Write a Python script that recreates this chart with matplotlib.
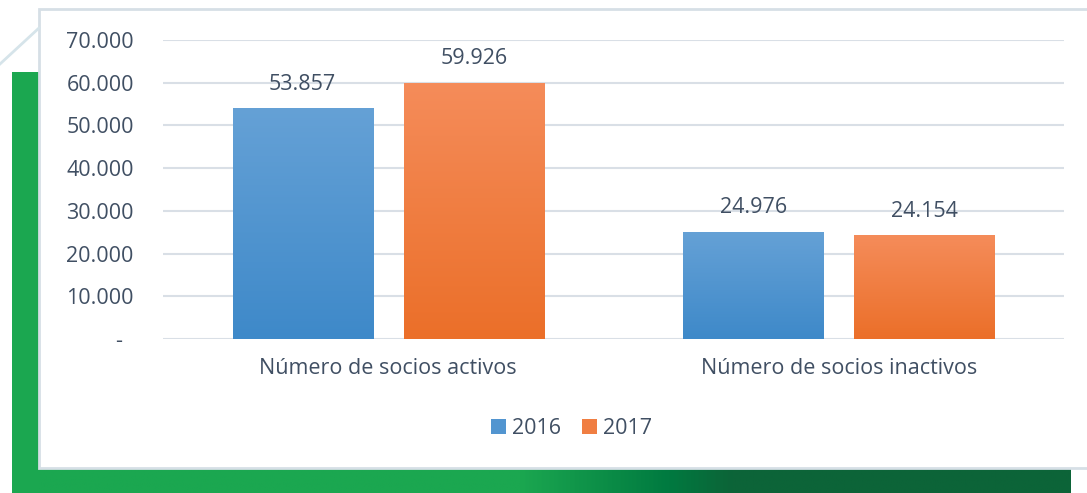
import numpy as np
import matplotlib.pyplot as plt
from matplotlib.colors import LinearSegmentedColormap
from matplotlib.patches import Rectangle
from matplotlib.lines import Line2D

# -----------------------------
# Data
# -----------------------------
categories = ['Número de socios activos', 'Número de socios inactivos']
years = ['2016', '2017']
values_2016 = [53857, 24976]
values_2017 = [59926, 24154]
yticks = [0, 10000, 20000, 30000, 40000, 50000, 60000, 70000]
ytick_labels = ['-  ', '10.000', '20.000', '30.000', '40.000', '50.000', '60.000', '70.000']

text_color = '#404F63'
grid_color = '#D9DFE6'
plt.rcParams['font.family'] = ['Open Sans', 'DejaVu Sans']

W, H = 1087, 493
fig = plt.figure(figsize=(W / 100, H / 100), dpi=100)

# -----------------------------
# Background frame (figure coords, px -> fraction)
# -----------------------------
def fx(px):
    return px / W

def fy(py):
    return 1 - py / H

# green bottom strip with gradient
green_cmap = LinearSegmentedColormap.from_list(
    'g', [(0, '#1BA750'), (0.48, '#1BA750'), (0.62, '#007A40'), (0.68, '#0C6438'), (1, '#0C6438')])
bg = fig.add_axes([0, 0, 1, 1], zorder=-2)
bg.set_xlim(0, W)
bg.set_ylim(H, 0)
bg.axis('off')
grad = np.linspace(0, 1, 512).reshape(1, -1)
bg.imshow(grad, cmap=green_cmap, extent=[12, 1071, 493, 468], aspect='auto')
bg.add_patch(Rectangle((12, 72), 27, 421, color='#1BA750', lw=0))
# diagonal decoration
bg.add_line(Line2D([0, 39], [64, 28], color='#D6E4EA', lw=2))
# white panel with light border
bg.add_patch(Rectangle((39, 9), 1060, 459, facecolor='white', edgecolor='#D6DFE6', lw=2))

# -----------------------------
# Chart
# -----------------------------
ax = fig.add_axes([fx(163), fy(339), fx(1064) - fx(163), fy(40) - fy(339)])

x = np.arange(len(categories))
bw = 0.311
off = 0.19

blue_cmap = LinearSegmentedColormap.from_list('b', ['#3E89C9', '#65A1D6'])
orange_cmap = LinearSegmentedColormap.from_list('o', ['#EB6F29', '#F58C5A'])
vgrad = np.linspace(1, 0, 256).reshape(-1, 1)

for vals, xs, cmap, label in [(values_2016, x - off, blue_cmap, years[0]),
                              (values_2017, x + off, orange_cmap, years[1])]:
    bars = ax.bar(xs, vals, bw, color=cmap(0.5), zorder=2, label=label)
    for b in bars:
        bx, by = b.get_x(), b.get_height()
        ax.imshow(vgrad, cmap=cmap, vmin=0, vmax=1, aspect='auto', zorder=3,
                  extent=[bx, bx + b.get_width(), 0, by])
        ax.annotate(f'{by:,.0f}'.replace(',', '.'), (bx + b.get_width() / 2, by),
                    xytext=(0, 10), textcoords='offset points', ha='center', va='bottom',
                    fontsize=15.5, color=text_color)
ax.set_xlim(-0.5, 1.5)
ax.set_ylim(0, 70000)

ax.set_yticks(yticks)
ax.set_yticklabels(ytick_labels)
ax.set_xticks(x)
ax.set_xticklabels(categories)
ax.tick_params(axis='both', length=0, labelsize=15.5, colors=text_color)
ax.tick_params(axis='y', pad=21)
ax.tick_params(axis='x', pad=14)
ax.grid(axis='y', color=grid_color, lw=1.5, zorder=0)
ax.set_axisbelow(True)
for s in ax.spines.values():
    s.set_visible(False)
ax.axhline(0, color=grid_color, lw=2, zorder=1)

leg = ax.legend(loc='upper center', bbox_to_anchor=(0.4534, -0.2), ncol=2, frameon=False,
                fontsize=15.5, handlelength=0.7, handleheight=0.7, handletextpad=0.3,
                columnspacing=0.95, labelcolor=text_color)

fig.savefig('out.png', dpi=100)
